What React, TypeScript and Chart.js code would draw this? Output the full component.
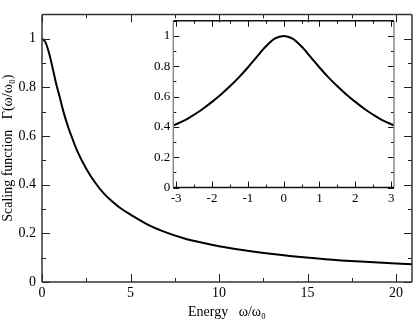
import React, { useEffect, useRef } from "react";
import { Chart, registerables } from "chart.js";

Chart.register(...registerables);

// Main curve: scaling function vs energy
const mainOmega = [0, 0.2, 0.4, 0.6, 0.8, 1.0, 1.25, 1.5, 1.75, 2.0, 2.5, 3.0, 3.5, 4.0, 4.5, 5, 6, 7, 8, 9, 10, 12, 14, 16, 18, 20, 20.9];
const mainGamma = [1.0, 0.985, 0.94, 0.88, 0.815, 0.76, 0.69, 0.632, 0.583, 0.537, 0.466, 0.409, 0.363, 0.329, 0.3, 0.277, 0.235, 0.204, 0.18, 0.162, 0.147, 0.124, 0.107, 0.094, 0.084, 0.076, 0.073];

// Inset curve
const insetOmega = [-3.08, -2.75, -2.5, -2.25, -2, -1.75, -1.5, -1.25, -1, -0.75, -0.5, -0.25, 0, 0.25, 0.5, 0.75, 1, 1.25, 1.5, 1.75, 2, 2.25, 2.5, 2.75, 3.08];
const insetGamma = [0.41, 0.444, 0.48, 0.52, 0.565, 0.614, 0.668, 0.727, 0.792, 0.862, 0.93, 0.982, 1.0, 0.982, 0.93, 0.862, 0.792, 0.727, 0.668, 0.614, 0.565, 0.52, 0.48, 0.444, 0.41];

const mainXTitle = "Energy   ω/ω₀";
const mainYTitle = "Scaling function   Γ(ω/ω₀)";

const SERIF = "'Liberation Serif', 'DejaVu Serif', serif";

const fmt = (v: number | string) => String(+Number(v).toFixed(2));

const framePlugin = {
  id: "frame",
  afterDraw(chart: any, _args: any, o: any) {
    const { ctx, chartArea: a, scales } = chart;
    const xs = scales.x;
    const ys = scales.y;
    ctx.save();
    ctx.lineWidth = o.tickWidth;
    ctx.strokeStyle = o.tickColor;
    const eps = 1e-9;
    const each = (min: number, max: number, step: number, cb: (v: number) => void) => {
      const start = Math.ceil((min - eps) / step) * step;
      for (let v = start; v <= max + eps; v += step) cb(v);
    };
    const isMajor = (v: number, step: number) => Math.abs(v / step - Math.round(v / step)) < 1e-6;
    ctx.beginPath();
    each(xs.min, xs.max, o.xMinor, (v) => {
      const len = isMajor(v, o.xMajor) ? o.majorLen : o.minorLen;
      const px = Math.round(xs.getPixelForValue(v)) + 0.5;
      ctx.moveTo(px, a.bottom);
      ctx.lineTo(px, a.bottom - len);
      ctx.moveTo(px, a.top);
      ctx.lineTo(px, a.top + len);
    });
    each(ys.min, ys.max, o.yMinor, (v) => {
      const len = isMajor(v, o.yMajor) ? o.majorLen : o.minorLen;
      const py = Math.round(ys.getPixelForValue(v)) + 0.5;
      ctx.moveTo(a.left, py);
      ctx.lineTo(a.left + len, py);
      ctx.moveTo(a.right, py);
      ctx.lineTo(a.right - len, py);
    });
    ctx.stroke();
    ctx.lineWidth = o.frameWidth;
    const line = (x1: number, y1: number, x2: number, y2: number, c: string) => {
      ctx.strokeStyle = c;
      ctx.beginPath();
      ctx.moveTo(x1, y1);
      ctx.lineTo(x2, y2);
      ctx.stroke();
    };
    line(a.left, a.top, a.left, a.bottom, o.sideColor);
    line(a.right, a.top, a.right, a.bottom, o.sideColor);
    line(a.left, a.bottom, a.right, a.bottom, o.color);
    line(a.left, a.top, a.right, a.top, o.color);
    ctx.restore();
  },
};

function MainChart() {
  const ref = useRef<HTMLCanvasElement>(null);
  useEffect(() => {
    const chart = new Chart(ref.current!, {
      type: "scatter",
      data: {
        datasets: [
          {
            data: mainOmega.map((x, i) => ({ x, y: mainGamma[i] })),
            showLine: true,
            borderColor: "#000",
            borderWidth: 2,
            pointRadius: 0,
            cubicInterpolationMode: "monotone",
          },
        ],
      },
      options: {
        animation: false,
        responsive: false,
        devicePixelRatio: 1,
        layout: { padding: { top: 2, right: 3, left: 0, bottom: 0 } },
        plugins: {
          legend: { display: false },
          tooltip: { enabled: false },
          frame: {
            xMajor: 5, xMinor: 2.5, yMajor: 0.2, yMinor: 0.1,
            majorLen: 8, minorLen: 4, tickWidth: 1, tickColor: "#222",
            frameWidth: 1.5, color: "#333", sideColor: "#333",
          },
        } as any,
        scales: {
          x: {
            type: "linear",
            min: 0,
            max: 20.9,
            grid: { display: false, drawTicks: false },
            border: { display: false },
            ticks: {
              stepSize: 5,
              includeBounds: false,
              padding: 3,
              color: "#000",
              font: { family: SERIF, size: 14 },
              callback: fmt,
              maxRotation: 0,
            },
            title: {
              display: true,
              text: mainXTitle,
              color: "#000",
              font: { family: SERIF, size: 14 },
              padding: { top: 0, bottom: 1 },
            },
            afterFit: (s: any) => {
              s.height = 40;
            },
          },
          y: {
            type: "linear",
            min: 0,
            max: 1.1,
            grid: { display: false, drawTicks: false },
            border: { display: false },
            ticks: {
              stepSize: 0.2,
              includeBounds: false,
              padding: 6,
              color: "#000",
              font: { family: SERIF, size: 14 },
              callback: fmt,
            },
            title: {
              display: true,
              text: mainYTitle,
              color: "#000",
              font: { family: SERIF, size: 14 },
              padding: { top: 0, bottom: 0 },
            },
            afterFit: (s: any) => {
              s.width = 42;
            },
          },
        },
      },
      plugins: [framePlugin],
    } as any);
    return () => chart.destroy();
  }, []);
  return <canvas ref={ref} width={415} height={322} style={{ position: "absolute", left: 0, top: 0 }} />;
}

function InsetChart() {
  const ref = useRef<HTMLCanvasElement>(null);
  useEffect(() => {
    const chart = new Chart(ref.current!, {
      type: "scatter",
      data: {
        datasets: [
          {
            data: insetOmega.map((x, i) => ({ x, y: insetGamma[i] })),
            showLine: true,
            borderColor: "#000",
            borderWidth: 2,
            pointRadius: 0,
            cubicInterpolationMode: "monotone",
          },
        ],
      },
      options: {
        animation: false,
        responsive: false,
        devicePixelRatio: 1,
        layout: { padding: { top: 8, right: 11, left: 0, bottom: 0 } },
        plugins: {
          legend: { display: false },
          tooltip: { enabled: false },
          frame: {
            xMajor: 1, xMinor: 0.5, yMajor: 0.2, yMinor: 0.1,
            majorLen: 6, minorLen: 3, tickWidth: 1, tickColor: "#111",
            frameWidth: 1.5, color: "#111", sideColor: "#888",
          },
        } as any,
        scales: {
          x: {
            type: "linear",
            min: -3.08,
            max: 3.08,
            grid: { display: false, drawTicks: false },
            border: { display: false },
            ticks: {
              stepSize: 1,
              includeBounds: false,
              padding: 3,
              color: "#000",
              font: { family: SERIF, size: 13 },
              callback: fmt,
              maxRotation: 0,
            },
            afterFit: (s: any) => {
              s.height = 27.5;
            },
          },
          y: {
            type: "linear",
            min: 0,
            max: 1.1,
            grid: { display: false, drawTicks: false },
            border: { display: false },
            ticks: {
              stepSize: 0.2,
              includeBounds: false,
              padding: 3,
              color: "#000",
              font: { family: SERIF, size: 13 },
              callback: fmt,
            },
            afterFit: (s: any) => {
              s.width = 43.3;
            },
          },
        },
      },
      plugins: [framePlugin],
    } as any);
    return () => chart.destroy();
  }, []);
  return <canvas ref={ref} width={275} height={205} style={{ position: "absolute", left: 130, top: 10 }} />;
}

export default function App() {
  return (
    <div style={{ position: "absolute", left: 0, top: 0, width: 415, height: 322, background: "#fff" }}>
      <MainChart />
      <InsetChart />
    </div>
  );
}
